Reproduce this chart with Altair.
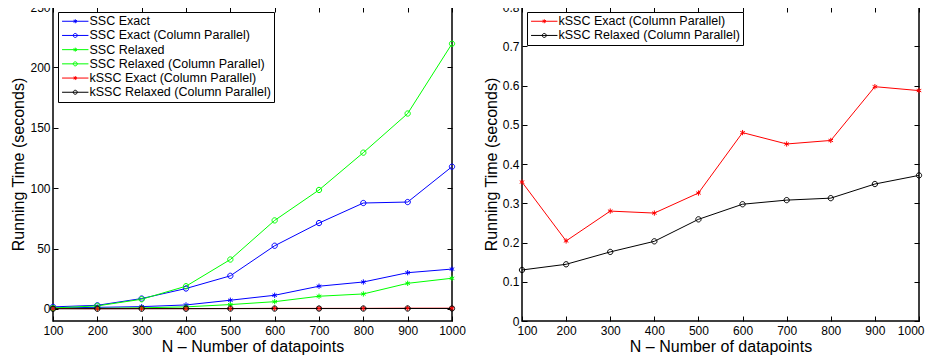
import altair as alt
import pandas as pd

# ---------------- data ----------------
N = [100, 200, 300, 400, 500, 600, 700, 800, 900, 1000]

names_left = [
    "SSC Exact",
    "SSC Exact (Column Parallel)",
    "SSC Relaxed",
    "SSC Relaxed (Column Parallel)",
    "kSSC Exact (Column Parallel)",
    "kSSC Relaxed (Column Parallel)",
]
ssc_exact = [0.8, 1.3, 1.9, 3.3, 7.2, 11.3, 18.8, 22.3, 30.0, 33.0]
ssc_exact_cp = [1.7, 3.0, 8.6, 16.9, 27.4, 52.3, 71.1, 87.7, 88.5, 117.8]
ssc_relaxed = [0.3, 0.5, 0.9, 1.7, 3.6, 6.0, 10.5, 12.4, 21.2, 25.4]
ssc_relaxed_cp = [0.8, 2.5, 8.0, 18.8, 40.9, 73.3, 98.5, 129.4, 161.8, 219.6]
kssc_exact_cp = [0.354, 0.204, 0.280, 0.275, 0.326, 0.480, 0.451, 0.460, 0.597, 0.587]
kssc_relaxed_cp = [0.130, 0.1445, 0.176, 0.203, 0.259, 0.2975, 0.308, 0.313, 0.349, 0.371]

values_left = [ssc_exact, ssc_exact_cp, ssc_relaxed, ssc_relaxed_cp, kssc_exact_cp, kssc_relaxed_cp]
markers_left = ["star", "circle", "star", "circle", "star", "circle"]
colors_left = ["#0000ff", "#0000ff", "#00ff00", "#00ff00", "#ff0000", "#000000"]

names_right = names_left[4:]
values_right = [kssc_exact_cp, kssc_relaxed_cp]
markers_right = markers_left[4:]
colors_right = colors_left[4:]

x_ticks = N
y_ticks_left = [0, 50, 100, 150, 200, 250]
y_ticks_right = [0, 0.1, 0.2, 0.3, 0.4, 0.5, 0.6, 0.7, 0.8]

# ---------------- styling ----------------
FONT = "Liberation Sans"
STAR = "M0,-1L0,1M-0.866,-0.5L0.866,0.5M-0.866,0.5L0.866,-0.5"
CIRCLE = "M1,0A1,1,0,1,1,-1,0A1,1,0,1,1,1,0"
LEG_LINE = "M-6.6,0L6.6,0"
PLOT_PATH = {"star": STAR, "circle": CIRCLE}
LEG_PATH = {"star": LEG_LINE + STAR, "circle": LEG_LINE + CIRCLE}


def make_legend():
    return alt.Legend(
        title=None, orient="top-left", offset=5, padding=3,
        strokeColor="black", fillColor="white",
        symbolSize=16, symbolStrokeWidth=1, symbolOffset=8, labelOffset=8,
        labelFont=FONT, labelFontSize=12.5, labelColor="black", labelLimit=400,
        rowPadding=1.2)


def panel(names, values, markers, colors, ydom, yticks, width, height, flush):
    rows = []
    for name, vals in zip(names, values):
        for n, v in zip(N, vals):
            rows.append({"N": n, "series": name, "t": v})
    df = pd.DataFrame(rows)

    xscale = alt.Scale(domain=[100, 1000], nice=False, zero=False)
    yscale = alt.Scale(domain=ydom, nice=False, zero=False)
    cscale = alt.Scale(domain=names, range=colors)

    xaxis_kw = dict(
        orient="bottom", values=x_ticks, format="d", title="N – Number of datapoints",
        offset=-5, tickSize=5, labelPadding=4, titlePadding=2,
        labelOverlap=False, domain=False, grid=False)
    if flush:
        xaxis_kw.update(labelFlush=True, labelFlushOffset=5)
    else:
        xaxis_kw.update(labelFlush=False)
    x_main = alt.X("N:Q", scale=xscale, axis=alt.Axis(**xaxis_kw))
    y_main = alt.Y("t:Q", scale=yscale, axis=alt.Axis(
        orient="left", values=yticks, format="~r", title="Running Time (seconds)",
        offset=-5, tickSize=5, labelPadding=3, titlePadding=3,
        labelFlush=False, labelOverlap=False, domain=False, grid=False))

    lines = alt.Chart(df).mark_line(strokeWidth=1).encode(
        x=x_main, y=y_main,
        color=alt.Color("series:N", scale=cscale, legend=None),
        detail="series:N",
    )

    points = alt.Chart(df).mark_point(filled=False, strokeWidth=1, size=28, opacity=1).encode(
        x=alt.X("N:Q", scale=xscale, axis=None),
        y=alt.Y("t:Q", scale=yscale, axis=None),
        color=alt.Color("series:N", scale=cscale, legend=None),
        shape=alt.Shape("series:N", scale=alt.Scale(domain=names, range=[PLOT_PATH[m] for m in markers]), legend=None),
    )

    legend_layer = alt.Chart(df).mark_point(filled=False, strokeWidth=1, size=16, opacity=1).encode(
        x=alt.X("N:Q", scale=xscale, axis=None),
        y=alt.Y("t:Q", scale=yscale, axis=None),
        color=alt.Color("series:N", scale=cscale, legend=make_legend()),
        shape=alt.Shape("series:N", scale=alt.Scale(domain=names, range=[LEG_PATH[m] for m in markers]),
                        legend=make_legend()),
    ).transform_filter("false")

    ticks_tr = alt.Chart(df).mark_point(opacity=0).encode(
        x=alt.X("N:Q", scale=xscale, axis=alt.Axis(
            orient="top", values=x_ticks, labels=False, title=None, offset=-5, tickSize=5,
            domain=False, grid=False)),
        y=alt.Y("t:Q", scale=yscale, axis=alt.Axis(
            orient="right", values=yticks, labels=False, title=None, offset=-5, tickSize=5,
            domain=False, grid=False)),
    )

    return alt.layer(lines, points, legend_layer, ticks_tr).resolve_scale(
        color="independent", shape="independent"
    ).resolve_axis(x="independent", y="independent").properties(width=width, height=height)


left = panel(names_left, values_left, markers_left, colors_left, [-10, 250], y_ticks_left, 399, 314, False)
right = panel(names_right, values_right, markers_right, colors_right, [0, 0.8], y_ticks_right, 397, 314, True)

chart = alt.hconcat(left, right, spacing=70, bounds="flush").properties(
    padding={"left": 2, "top": -8, "right": 0, "bottom": 0},
    background="white",
).configure_view(
    stroke="black", strokeWidth=1.5
).configure_axis(
    labelFont=FONT, labelFontSize=12, labelColor="black",
    titleFont=FONT, titleFontSize=16, titleFontWeight="normal", titleColor="black",
    tickColor="black", tickWidth=1,
).configure_legend(
    labelFont=FONT,
)

chart.save("out.html", embed_options={"renderer": "svg", "actions": False})
